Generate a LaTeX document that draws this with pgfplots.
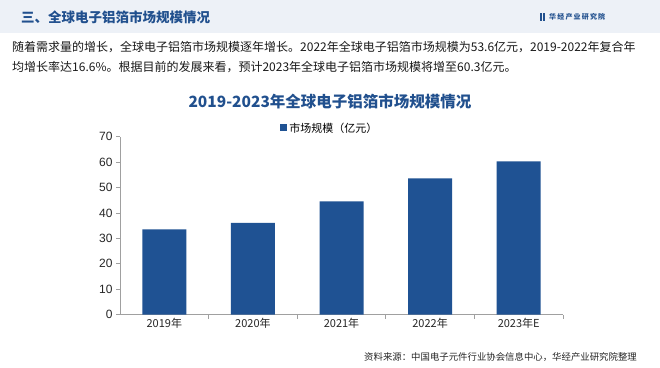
\documentclass[border=0pt]{standalone}
\usepackage{pgfplots}
\pgfplotsset{compat=1.18}
\usepackage{fontspec}
\setmainfont{Noto Sans CJK SC}
\newfontfamily\arial{Liberation Sans}
\definecolor{barblue}{RGB}{31,82,147}
\definecolor{titleblue}{RGB}{33,80,142}
\definecolor{headbg}{RGB}{237,241,247}
\definecolor{axgray}{RGB}{160,160,160}
\begin{document}
\begin{tikzpicture}[x=1pt,y=1pt]
\useasboundingbox (0,0) rectangle (660,367);
\fill[white] (0,0) rectangle (660,367);
\fill[headbg] (0,334) rectangle (660,367);
\node[anchor=west, font=\fontsize{13.5}{16}\selectfont\bfseries, text=titleblue, inner sep=0] at (21,350) {三、全球电子铝箔市场规模情况};
\fill[titleblue] (539.5,346) rectangle (541.5,354);
\fill[titleblue] (542.5,346) rectangle (544.5,354);
\node[anchor=west, font=\fontsize{7}{8}\selectfont\bfseries, text=titleblue, inner sep=0] at (549,350) {\makebox[56pt][s]{华\hfil 经\hfil 产\hfil 业\hfil 研\hfil 究\hfil 院}};
\node[anchor=west, font=\fontsize{12}{13}\selectfont, text=black!90, inner sep=0] at (12,320) {随着需求量的增长，全球电子铝箔市场规模逐年增长。2022年全球电子铝箔市场规模为53.6亿元，2019-2022年复合年};
\node[anchor=west, font=\fontsize{12}{13}\selectfont, text=black!90, inner sep=0] at (12,300) {均增长率达16.6\%。根据目前的发展来看，预计2023年全球电子铝箔市场规模将增至60.3亿元。};
\node[font=\fontsize{15.5}{17}\selectfont\bfseries, text=titleblue, inner sep=0] at (330,265) {2019-2023年全球电子铝箔市场规模情况};
\node[anchor=east, font=\fontsize{9.4}{11}\selectfont, text=black!85, inner sep=0] at (637,10) {资料来源：中国电子元件行业协会信息中心，华经产业研究院整理};
\begin{axis}[
  at={(120pt,52.3pt)}, anchor=south west,
  scale only axis, width=443pt, height=178pt,
  xmin=-0.5, xmax=4.5, ymin=0, ymax=70,
  ytick={0,10,...,70},
  xtick={0.5,1.5,2.5,3.5,4.5},
  xticklabels={},
  extra x ticks={0,1,2,3,4},
  extra x tick labels={2019年,2020年,2021年,2022年,2023年E},
  extra x tick style={major tick length=0pt},
  axis x line*=bottom, axis y line*=left,
  axis line style={axgray, line width=0.8pt},
  tick align=outside,
  tick style={axgray, line width=0.8pt},
  major tick length=4pt,
  /pgf/number format/assume math mode=true,
  yticklabel style={font=\arial\fontsize{12}{14}\selectfont, text=black!85},
  xticklabel style={font=\fontsize{11}{13}\selectfont, text=black!85},
  legend style={at={(0.474,1.0)}, anchor=south, yshift=0pt, draw=none, fill=none, font=\fontsize{11}{13}\selectfont, inner sep=1pt},
  legend image code/.code={\fill[barblue] (0pt,-3pt) rectangle (7pt,4pt);},
]
\addplot[ybar, bar width=44pt, fill=barblue, draw=none] coordinates {(0,33.6) (1,36.1) (2,44.6) (3,53.6) (4,60.3)};
\addlegendentry{市场规模（亿元）}
\end{axis}
\end{tikzpicture}
\end{document}
